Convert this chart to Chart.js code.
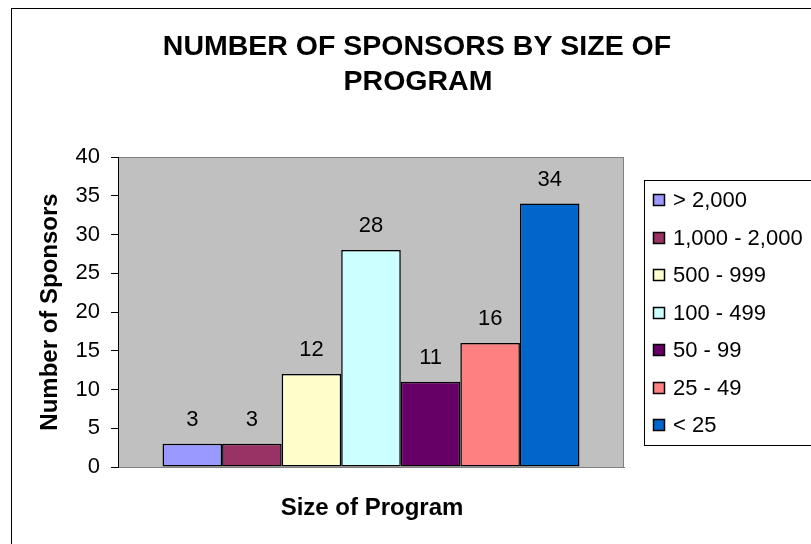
<!DOCTYPE html>
<html>
<head>
<meta charset="utf-8">
<script src="https://cdn.jsdelivr.net/npm/chart.js@4/dist/chart.umd.min.js"></script>
<style>
html,body{margin:0;padding:0;background:#fff;}
canvas{display:block;}
</style>
</head>
<body>
<canvas id="c" width="811" height="544"></canvas>
<script>
const titleLines = ["NUMBER OF SPONSORS BY SIZE OF", "PROGRAM"];
const xAxisTitle = "Size of Program";
const yAxisTitle = "Number of Sponsors";
const categories = [""];
const seriesNames = ["> 2,000", "1,000 - 2,000", "500 - 999", "100 - 499", "50 - 99", "25 - 49", "< 25"];
const seriesValues = [3, 3, 12, 28, 11, 16, 34];
const seriesColors = ["#9999FF", "#993366", "#FFFFCC", "#CCFFFF", "#660066", "#FF8080", "#0066CC"];
const yTicks = [0, 5, 10, 15, 20, 25, 30, 35, 40];

const FONT = '"Liberation Sans", Arial, sans-serif';

const decor = {
  id: 'decor',
  beforeDraw(chart) {
    const ctx = chart.ctx;
    const a = chart.chartArea;
    ctx.save();
    ctx.fillStyle = '#fff';
    ctx.fillRect(0, 0, chart.width, chart.height);
    ctx.strokeStyle = '#000';
    ctx.lineWidth = 1;
    ctx.strokeRect(11.5, 8.5, 1000, 800);
    ctx.fillStyle = '#C0C0C0';
    ctx.fillRect(a.left, a.top, a.right - a.left, a.bottom - a.top);
    ctx.strokeStyle = '#808080';
    ctx.strokeRect(a.left + 0.5, a.top + 0.5, a.right - a.left - 1, a.bottom - a.top);
    ctx.restore();
  },
  afterDatasetsDraw(chart) {
    const ctx = chart.ctx;
    ctx.save();
    ctx.fillStyle = '#000';
    ctx.font = '22px ' + FONT;
    ctx.textAlign = 'center';
    ctx.textBaseline = 'middle';
    chart.data.datasets.forEach((ds, i) => {
      const el = chart.getDatasetMeta(i).data[0];
      ctx.fillText(String(ds.data[0]), el.x, el.y - 24);
    });
    ctx.restore();
  },
  afterDraw(chart) {
    const ctx = chart.ctx;
    const a = chart.chartArea;
    ctx.save();
    ctx.fillStyle = '#000';
    ctx.font = 'bold 28.5px ' + FONT;
    ctx.textAlign = 'center';
    ctx.textBaseline = 'alphabetic';
    ctx.fillText(titleLines[0], 417, 55);
    ctx.fillText(titleLines[1], 418, 90);
    ctx.font = 'bold 24px ' + FONT;
    ctx.textBaseline = 'middle';
    ctx.fillText(xAxisTitle, (a.left + a.right) / 2 + 1, 508);
    ctx.save();
    ctx.translate(50, (a.top + a.bottom) / 2);
    ctx.rotate(-Math.PI / 2);
    ctx.fillText(yAxisTitle, 0, 0);
    ctx.restore();
    const lx = 644, ly = 180, lh = 265;
    ctx.strokeStyle = '#000';
    ctx.lineWidth = 1;
    ctx.fillStyle = '#fff';
    ctx.fillRect(lx + 0.5, ly + 0.5, 400, lh);
    ctx.strokeRect(lx + 0.5, ly + 0.5, 400, lh);
    ctx.font = '22px ' + FONT;
    ctx.textAlign = 'left';
    ctx.textBaseline = 'middle';
    chart.data.datasets.forEach((ds, i) => {
      const cy = 200 + i * 37.5;
      const sz = 12;
      const top = Math.round(cy - sz / 2);
      ctx.fillStyle = ds.backgroundColor;
      ctx.fillRect(653, top, sz, sz);
      ctx.strokeStyle = '#000';
      ctx.lineWidth = 1.5;
      ctx.strokeRect(653.5, top + 0.5, sz - 1, sz - 1);
      ctx.fillStyle = '#000';
      ctx.fillText(ds.label, 673, cy + 1);
    });
    ctx.restore();
  }
};

new Chart(document.getElementById('c'), {
  type: 'bar',
  data: {
    labels: categories,
    datasets: seriesNames.map((n, i) => ({
      label: n,
      data: [seriesValues[i]],
      backgroundColor: seriesColors[i],
      borderColor: '#000',
      borderWidth: 1.5,
      borderSkipped: false,
      categoryPercentage: 0.824,
      barPercentage: 1.0
    }))
  },
  options: {
    responsive: false,
    animation: false,
    layout: { padding: { top: 157, right: 187, bottom: 0, left: 0 } },
    plugins: { legend: { display: false }, title: { display: false }, tooltip: { enabled: false } },
    scales: {
      x: {
        grid: { display: false },
        border: { display: true, color: '#808080' },
        ticks: { display: false },
        afterFit(s) { s.height = 77; }
      },
      y: {
        min: 0, max: 40,
        afterBuildTicks(s) { s.ticks = yTicks.map(v => ({ value: v })); },
        ticks: { color: '#000', font: { size: 22, family: FONT }, padding: 11 },
        grid: { display: true, drawOnChartArea: false, drawTicks: true, tickLength: 7, color: '#000' },
        border: { display: true, color: '#000' },
        afterFit(s) { s.width = 118; }
      }
    }
  },
  plugins: [decor]
});
</script>
</body>
</html>
